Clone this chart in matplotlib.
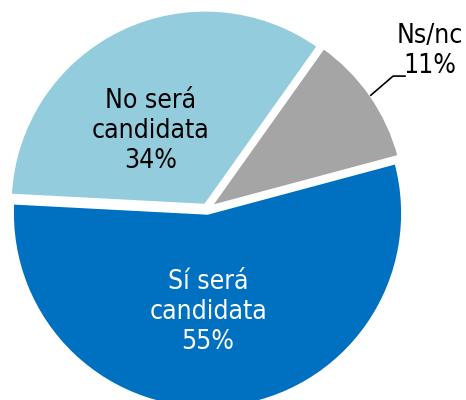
import matplotlib.pyplot as plt

labels = ["Sí será\ncandidata", "No será\ncandidata", "Ns/nc"]
shares = [55, 34, 11]
colors = ["#0070C0", "#93CDDD", "#A5A5A5"]
text_colors = ["white", "black", "black"]

fig = plt.figure(figsize=(4.66, 4.0), dpi=100)
ax = fig.add_axes([0, 0, 1, 1])

wedges, _ = ax.pie(
    shares, colors=colors, startangle=15, counterclock=False,
    explode=[0.022, 0.022, 0.022], radius=1.0,
    wedgeprops=dict(edgecolor="white", linewidth=2),
)

font = dict(fontsize=19, fontstretch="condensed", family="DejaVu Sans",
            ha="center", va="center", linespacing=1.2)

ax.text(0.005, -0.53, f"{labels[0]}\n{shares[0]}%", color=text_colors[0], **font)
ax.text(-0.29, 0.40, f"{labels[1]}\n{shares[1]}%", color=text_colors[1], **font)
ax.text(1.144, 0.81, f"{labels[2]}\n{shares[2]}%", color=text_colors[2], **font)
ax.plot([0.84, 0.954, 1.015], [0.584, 0.682, 0.682], color="black", lw=1.2)

ax.set_xlim(-1.062, 1.328)
ax.set_ylim(-0.979, 1.072)
ax.set_aspect("equal")
ax.axis("off")

fig.savefig("out.png", dpi=100)
